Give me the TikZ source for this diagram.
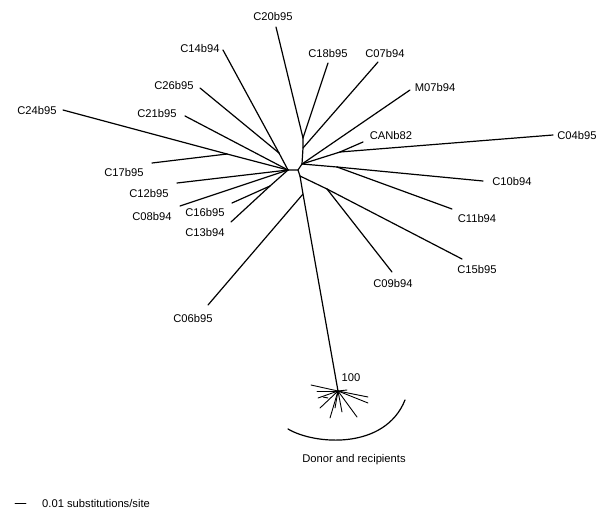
\documentclass[tikz,border=0pt]{standalone}
\usepackage{fontspec}
\setmainfont{Liberation Sans}
\usepackage{tikz}
\usetikzlibrary{positioning,calc}
\tikzset{
  taxon/.style  = {inner sep=0pt, font=\fontsize{11.2}{12}\selectfont},
  branch/.style = {line width=1.2pt, line cap=round},
  twig/.style   = {line width=0.9pt, line cap=round},
  hub/.style    = {inner sep=0pt}
}
\newcommand{\DrawLeaf}[5]{%
  % tip of the branch
  \coordinate (#1) at #2;
  % taxon label
  \node[taxon] (#1l) at #3 {#4};
  % branch from its parent
  \draw[branch] (#5) -- (#1);
}

\begin{document}
\begin{tikzpicture}[x=1pt,y=-1pt]
    \useasboundingbox (0,0) rectangle (597,512);

    % inner nodes of the tree
    \coordinate (L)   at (288,170);
    \coordinate (R)   at (298,170);
    \coordinate (U)   at (302,164);
    \coordinate (B)   at (303,148);
    \coordinate (A)   at (303,138);
    \coordinate (K)   at (340,152);
    \coordinate (J)   at (337,167);
    \coordinate (Dn)  at (300,176);
    \coordinate (Dc)  at (327,189);
    \coordinate (Dl)  at (303,194);
    \coordinate (Lc)  at (227,154);
    \coordinate (Lt)  at (279,153);
    \coordinate (Lb)  at (270,186);
    \coordinate (P)   at (338,391);

    \draw[branch] (L) -- (R) -- (U) -- (B) -- (A);
    \draw[branch] (U) -- (K);
    \draw[branch] (U) -- (J);
    \draw[branch] (R) -- (Dn) -- (Dc);
    \draw[branch] (Dn) -- (Dl) -- (P);
    \draw[branch] (L) -- (Lc);
    \draw[branch] (L) -- (Lt);
    \draw[branch] (L) -- (Lb);

    % upper right
    \DrawLeaf{c20}{(276,27)}{(273,16)}{C20b95}{A}
    \DrawLeaf{c18}{(328,63)}{(328,53)}{C18b95}{A}
    \DrawLeaf{c07}{(378,62)}{(385,53)}{C07b94}{B}
    \DrawLeaf{m07}{(410,90)}{(435,87)}{M07b94}{U}
    \DrawLeaf{can}{(363,142)}{(391,135)}{CANb82}{K}
    \DrawLeaf{c04}{(553,135)}{(577,135)}{C04b95}{K}
    \DrawLeaf{c10}{(483,181)}{(512,181)}{C10b94}{J}
    \DrawLeaf{c11}{(452,209)}{(477,218)}{C11b94}{J}

    % lower right
    \DrawLeaf{c15}{(462,259)}{(477,269)}{C15b95}{Dc}
    \DrawLeaf{c09}{(392,272)}{(393,283)}{C09b94}{Dc}
    \DrawLeaf{c06}{(208,305)}{(193,318)}{C06b95}{Dl}

    % left side
    \DrawLeaf{c24}{(63,110)}{(37,110)}{C24b95}{Lc}
    \DrawLeaf{c17}{(152,163)}{(124,172)}{C17b95}{Lc}
    \DrawLeaf{c21}{(185,116)}{(157,113)}{C21b95}{L}
    \DrawLeaf{c14}{(223,50)}{(200,48)}{C14b94}{Lt}
    \DrawLeaf{c26}{(200,88)}{(174,85)}{C26b95}{Lt}
    \DrawLeaf{c12}{(177,183)}{(149,193)}{C12b95}{L}
    \DrawLeaf{c08}{(180,206)}{(152,216)}{C08b94}{L}
    \DrawLeaf{c13}{(231,222)}{(205,232)}{C13b94}{Lb}
    \DrawLeaf{c16}{(232,203)}{(205,212)}{C16b95}{Lb}

    % donor and recipients cluster
    \node[taxon] (boot) at (351,378) {100};
    \foreach \x/\y in {311/385, 317/391, 318/398, 320/408, 330/418, 335/408,
                       342/412, 357/417, 368/403, 368/397, 347/390} {
      \draw[twig] (P) -- (\x,\y);
    }
    \draw[twig] (323,397) -- (328,398);
    \coordinate (arcl) at (288,429);
    \coordinate (arcr) at (405,400);
    \draw[branch] (arcl) .. controls (315,445) and (385,450) .. (arcr);
    \node[taxon] (donor) at (354,460) {Donor and recipients};

    % scale bar
    \coordinate (sb1) at (15,503);
    \coordinate (sb2) at (26,503);
    \draw[twig] (sb1) -- (sb2);
    \node[taxon, anchor=west] (sbl) at (42,503) {0.01 substitutions/site};
\end{tikzpicture}
\end{document}
